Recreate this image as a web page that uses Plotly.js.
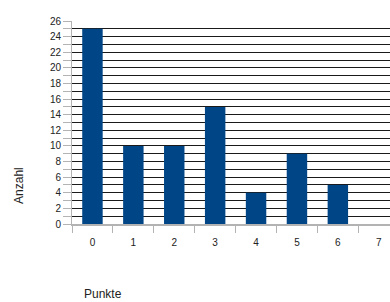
<!DOCTYPE html>
<html><head><meta charset="utf-8">
<script src="https://cdn.plot.ly/plotly-3.0.1.min.js"></script>
<style>body{margin:0;background:#fff}#c{width:390px;height:302px}</style>
</head><body><div id="c"></div>
<script>
const categories = ['0','1','2','3','4','5','6','7'];
const counts = [25, 10, 10, 15, 4, 9, 5, 0];
const yTickVals = [];
const yTickText = [];
for (let v = 0; v <= 26; v++) { yTickVals.push(v); yTickText.push(v % 2 === 0 ? String(v) : ''); }

const trace = {
  type: 'bar', x: categories, y: counts, width: 0.5,
  marker: {color: '#004586', line: {width: 0}},
  hoverinfo: 'none'
};
const layout = {
  width: 390, height: 302,
  margin: {l: 72, r: 0, t: 21, b: 78, pad: 0},
  paper_bgcolor: '#fff', plot_bgcolor: '#fff',
  font: {family: 'Liberation Sans, Arial, sans-serif', size: 10, color: '#222'},
  showlegend: false,
  xaxis: {
    type: 'category', range: [-0.5, 7.275],
    tickson: 'boundaries', ticks: 'outside', ticklen: 7, tickcolor: '#b3b3b3', tickwidth: 1,
    showline: true, linecolor: '#b3b3b3', linewidth: 2,
    showgrid: false, zeroline: false, ticklabelstandoff: 8,
    tickfont: {size: 10, color: '#222'}, automargin: false
  },
  yaxis: {
    range: [0, 26], tickvals: yTickVals, ticktext: yTickText,
    ticks: 'outside', ticklen: 8, tickcolor: '#b3b3b3', tickwidth: 1,
    showline: true, linecolor: '#b3b3b3', linewidth: 1,
    showgrid: true, gridcolor: '#1a1a1a', gridwidth: 1, zeroline: false,
    tickfont: {size: 10, color: '#222'}, automargin: false
  },
  annotations: [
    {text: 'Anzahl', xref: 'paper', yref: 'paper', x: -0.165, y: 0.19, textangle: -90,
     showarrow: false, xanchor: 'center', yanchor: 'middle', font: {size: 12, color: '#222'}},
    {text: 'Punkte', xref: 'paper', yref: 'paper', x: 0.031, y: -0.345, showarrow: false,
     xanchor: 'left', yanchor: 'middle', font: {size: 12, color: '#222'}}
  ]
};
Plotly.newPlot('c', [trace], layout, {displayModeBar: false, staticPlot: true});
</script></body></html>
